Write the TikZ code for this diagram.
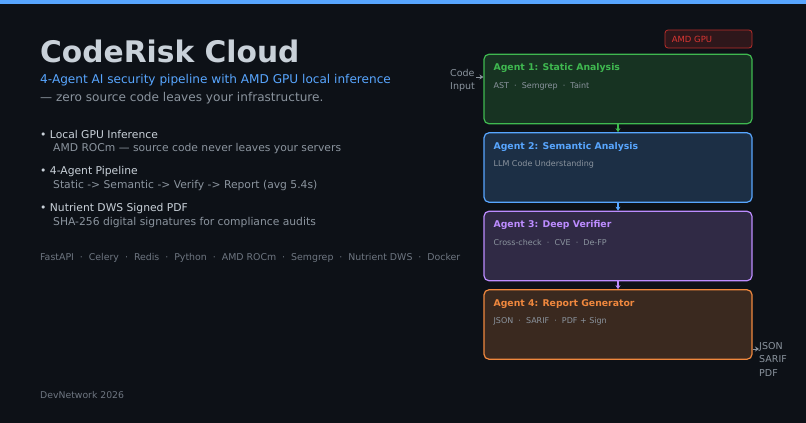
\documentclass[tikz,border=0pt]{standalone}
\usepackage{fontspec}
\setmainfont{DejaVu Sans}
\usetikzlibrary{arrows.meta,positioning,calc}
\definecolor{bgd}{HTML}{0D1117}
\definecolor{topb}{HTML}{58A6FF}
\definecolor{txH}{HTML}{C9D1D9}
\definecolor{txM}{HTML}{8B949E}
\definecolor{txL}{HTML}{6E7681}
\definecolor{agG}{HTML}{3FB950}
\definecolor{agB}{HTML}{58A6FF}
\definecolor{agP}{HTML}{BC8CFF}
\definecolor{agO}{HTML}{F0883E}
\definecolor{gpuR}{HTML}{DA3633}
\tikzset{
  agent/.style={draw=#1, fill=#1!20!bgd, line width=1.2pt, rounded corners=5pt,
    minimum width=268pt, minimum height=69.5pt, inner sep=0pt},
  atitle/.style={anchor=west, inner sep=0pt, font=\bfseries\fontsize{9.3}{11}\selectfont},
  asub/.style={anchor=west, inner sep=0pt, text=txM, font=\fontsize{8}{10}\selectfont},
  flow/.style={-{Stealth[length=4pt,width=5pt]}, line width=1.2pt},
  iolab/.style={inner sep=0pt, text=txM, font=\fontsize{9.5}{13.5}\selectfont, align=left},
  bhead/.style={anchor=west, inner sep=0pt, text=txH, font=\fontsize{10.75}{13}\selectfont},
  bsub/.style={anchor=west, inner sep=0pt, text=txM, font=\fontsize{10.75}{13}\selectfont},
}

\begin{document}
\begin{tikzpicture}[x=1pt,y=-1pt]

% ===================== background ===========================
\fill[bgd] (0,0) rectangle (806,423);
\fill[topb] (0,0) rectangle (806,4);
\useasboundingbox (0,0) rectangle (806,423);

% ===================== left column ==========================
\node[anchor=base west, inner sep=0pt, text=txH, font=\bfseries\fontsize{29.7}{34}\selectfont]
  (title) at (40,62) {CodeRisk Cloud};
\node[anchor=west, inner sep=0pt, text=agB, font=\fontsize{12.1}{15}\selectfont]
  (sub1) at (40,80) {4-Agent AI security pipeline with AMD GPU local inference};
\node[anchor=west, inner sep=0pt, text=txM, font=\fontsize{12.1}{15}\selectfont]
  (sub2) at (40,98) {— zero source code leaves your infrastructure.};

\node[bhead] (b1) at (40,134) {• Local GPU Inference};
\node[bsub]  (b1s) at (53,149) {AMD ROCm — source code never leaves your servers};
\node[bhead] (b2) at (40,172) {• 4-Agent Pipeline};
\node[bsub]  (b2s) at (53,186) {Static -> Semantic -> Verify -> Report (avg 5.4s)};
\node[bhead] (b3) at (40,209) {• Nutrient DWS Signed PDF};
\node[bsub]  (b3s) at (53,223) {SHA-256 digital signatures for compliance audits};

\node[anchor=west, inner sep=0pt, text=txL, font=\fontsize{9.4}{12}\selectfont]
  (tech) at (40,258) {FastAPI \ · \ Celery \ · \ Redis \ · \ Python \ · \ AMD ROCm \ · \ Semgrep \ · \ Nutrient DWS \ · \ Docker};
\node[anchor=west, inner sep=0pt, text=txL, font=\fontsize{9.3}{12}\selectfont]
  (foot) at (40,395) {DevNetwork 2026};

% ===================== pipeline ==============================
\node[draw=gpuR!85!black, fill=gpuR!16!bgd, line width=0.8pt, rounded corners=3pt,
  minimum width=87pt, minimum height=18pt, inner sep=0pt] (gpu) at (708.5,39) {};
\node[anchor=west, inner sep=0pt, text=gpuR, font=\fontsize{8.5}{10}\selectfont]
  (gputx) at ($(gpu.west)+(7,0)$) {AMD GPU};

\node[agent=agG] (a1) at (618,89) {};
\node[agent=agB, below=7.8pt of a1] (a2) {};
\node[agent=agP, below=7.8pt of a2] (a3) {};
\node[agent=agO, below=7.8pt of a3] (a4) {};

\node[atitle, text=agG] (t1) at ($(a1.north west)+(10,14.5)$) {Agent 1: Static Analysis};
\node[asub] (s1) at ($(a1.north west)+(10,32.5)$) {AST \ · \ Semgrep \ · \ Taint};
\node[atitle, text=agB] (t2) at ($(a2.north west)+(10,14.5)$) {Agent 2: Semantic Analysis};
\node[asub] (s2) at ($(a2.north west)+(10,32)$) {LLM Code Understanding};
\node[atitle, text=agP] (t3) at ($(a3.north west)+(10,14.5)$) {Agent 3: Deep Verifier};
\node[asub] (s3) at ($(a3.north west)+(10,32)$) {Cross-check \ · \ CVE \ · \ De-FP};
\node[atitle, text=agO] (t4) at ($(a4.north west)+(10,14.5)$) {Agent 4: Report Generator};
\node[asub] (s4) at ($(a4.north west)+(10,32)$) {JSON \ · \ SARIF \ · \ PDF + Sign};

\draw[flow, agG] (a1.south) -- (a2.north);
\draw[flow, agB] (a2.south) -- (a3.north);
\draw[flow, agP] (a3.south) -- (a4.north);

% input / output
\node[iolab, anchor=east] (cin) at (475,80.5) {Code\\Input};
\coordinate (cinp) at (476,77);
\draw[flow, txM, line width=0.8pt] (cinp) -- (a1.west |- cinp);
\coordinate (cout) at (759,349);
\draw[flow, txM, line width=0.8pt] (a4.east |- cout) -- (cout);
\node[iolab, anchor=north west] (out) at (759,342) {JSON\\SARIF\\PDF};

\end{tikzpicture}
\end{document}
